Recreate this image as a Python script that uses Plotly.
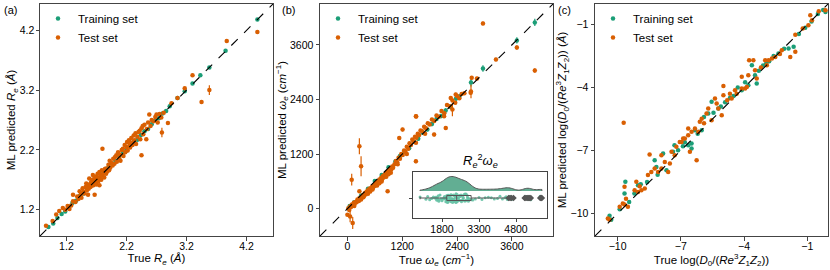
import plotly.graph_objects as go

GREEN = "#1b9e77"
ORANGE = "#d95f02"

# ---------------- Panel (a): R_e (Å) ----------------
a_train_x = [0.90,0.98,1.05,1.12,1.18,1.24,1.30,1.36,1.42,1.48,1.54,1.60,1.66,1.72,1.78,1.84,1.90,1.96,2.02,2.08,2.14,2.20,2.26,2.32,2.38,2.44,2.50,2.56,2.62,2.68,2.74,2.80,2.86,2.92,3.05,3.17,3.30,3.43,3.58,3.85,4.38]
a_train_y = [0.91,0.97,1.06,1.13,1.17,1.25,1.31,1.35,1.43,1.47,1.55,1.61,1.65,1.73,1.79,1.83,1.91,1.97,2.01,2.09,2.15,2.19,2.27,2.33,2.37,2.45,2.51,2.55,2.63,2.69,2.73,2.81,2.85,2.93,3.07,3.18,3.31,3.45,3.58,3.86,4.38]
a_train_err = [0.02]*41

a_test_x = [0.86,0.97,1.03,1.08,1.14,1.18,1.22,1.25,1.28,1.31,1.31,1.35,1.38,1.40,1.42,1.44,1.45,1.47,1.48,1.50,1.52,1.53,1.54,1.55,1.56,1.57,1.58,1.58,1.60,1.61,1.62,1.63,1.64,1.64,1.65,1.66,1.67,1.67,1.68,1.69,1.70,1.70,1.71,1.72,1.73,1.74,1.75,1.75,1.76,1.77,1.78,1.79,1.80,1.80,1.82,1.83,1.84,1.86,1.86,1.88,1.90,1.91,1.92,1.93,1.95,1.97,1.98,2.00,2.01,2.03,2.04,2.06,2.08,2.09,2.10,2.12,2.14,2.15,2.17,2.18,2.20,2.21,2.22,2.24,2.25,2.26,2.28,2.29,2.30,2.32,2.33,2.35,2.36,2.38,2.40,2.42,2.43,2.45,2.45,2.47,2.48,2.50,2.53,2.54,2.56,2.58,2.60,2.62,2.65,2.68,2.70,2.72,2.75,2.78,2.79,2.82,2.89,2.95,3.05,3.17,3.30,3.45,3.58,3.87,4.38]
a_test_y = [0.93,1.01,1.12,1.18,1.23,1.20,1.26,1.21,1.27,1.34,1.45,1.33,1.42,1.38,1.51,1.46,1.40,1.56,1.50,1.47,1.58,1.64,1.52,1.60,1.45,1.55,1.72,1.62,1.58,1.66,1.60,1.70,1.78,1.64,1.61,1.68,1.45,1.74,1.65,1.71,1.62,1.76,1.69,1.80,1.67,1.73,1.83,1.61,1.72,1.78,1.70,1.86,2.22,1.77,1.82,1.74,1.88,1.89,1.80,1.84,1.95,1.86,2.02,1.90,1.98,1.94,2.05,1.97,2.08,2.11,2.00,2.16,2.05,2.12,2.02,2.20,2.22,2.10,2.28,2.16,2.25,2.33,2.19,2.36,2.30,2.24,2.40,2.32,2.28,2.44,2.36,2.48,2.30,2.42,2.50,2.52,2.38,2.11,2.56,2.60,2.46,2.62,2.38,2.55,2.66,2.79,2.60,2.70,2.68,2.75,2.79,2.66,2.80,2.74,2.49,2.82,2.65,2.98,3.07,3.23,3.45,3.00,3.20,4.02,4.17]
a_test_err = [0.02]*len(a_test_x)
a_test_err[a_test_x.index(2.79)] = 0.08
a_test_err[a_test_x.index(3.58)] = 0.08

# ---------------- Panel (b): omega_e (cm^-1) ----------------
b_train_x = [50,150,300,450,600,750,900,1050,1150,1250,1350,1450,1550,1650,1750,1850,1950,2050,2150,2250,2378,2450,2705,2967,3709,4102]
b_train_y = [60,140,290,440,610,740,910,1040,1160,1260,1330,1470,1540,1670,1740,1860,1970,2040,2160,2240,2422,2460,2774,3083,3699,4095]
b_train_err = [20,20,20,20,25,25,25,30,30,30,40,30,40,40,40,50,40,50,50,50,60,60,90,70,70,80]

b_test_x = [20,40,60,80,100,120,140,160,180,200,220,240,260,280,300,320,340,360,380,400,420,440,460,480,500,520,540,560,580,600,620,640,660,680,700,720,740,760,780,800,820,840,860,880,900,920,940,960,980,1000,1030,1060,1090,1120,1150,1180,1210,1240,1270,1300,1330,1360,1390,1420,1450,1480,1510,1540,1570,1600,1640,1680,1720,1760,1800,1850,1900,1950,2000,2060,2120,2180,2240,2300,2360,2400,2450,2500,2560,
            150,250,350,450,550,650,750,850,950,300,500,700,900,1100,1300,1500,1700,
            0,262,880,1135,1207,1499,1499,1505,1898,2153,2116,2262,2371,2298,2698,2720,2705,2836,3251,3709,2967,4102,
            262,299,94,59,116]
b_test_y = [10,-30,50,40,90,70,130,110,150,140,200,180,230,210,260,250,300,280,340,310,380,350,420,390,450,430,490,460,520,500,560,540,600,570,640,610,680,650,720,690,760,740,800,770,840,820,880,860,930,900,980,1050,1020,1120,1100,1200,1180,1280,1250,1360,1320,1440,1400,1520,1480,1580,1560,1650,1620,1720,1700,1800,1770,1880,1850,1960,1930,2050,2020,2150,2100,2280,2250,2380,2330,2480,2430,2520,2540,
            60,170,250,330,420,510,600,700,790,200,380,560,760,980,1200,1450,1650,
            -132,381,381,1556,1739,1041,2033,2026,1629,1776,2033,2436,2510,2180,2547,2877,2576,2862,3281,3545,4073,3039,
            1372,932,639,-169,-315]
b_test_err = [30]*89 + [30]*17 + [30,30,30,40,40,40,40,40,40,40,40,40,40,150,40,40,150,40,40,50,40,50] + [176,220,130,130,130]

# ---------------- Panel (c): log(D0/(Re^3 Z1 Z2)) ----------------
c_train_x = [-10.38,-10.30,-9.90,-9.67,-9.63,-9.45,-9.20,-9.03,-8.90,-8.60,-8.24,-8.16,-8.10,-7.84,-7.68,-7.37,-7.30,-7.13,-6.90,-6.81,-6.65,-6.49,-6.49,-6.33,-6.20,-6.01,-5.90,-5.70,-5.54,-5.45,-5.22,-5.10,-4.90,-4.67,-4.50,-4.30,-4.11,-3.95,-3.80,-3.63,-3.48,-3.40,-3.30,-3.10,-2.95,-2.81,-2.60,-2.37,-2.10,-1.89,-1.65,-1.40,-1.10,-0.80,-0.50,-0.25,-0.14]
c_train_y = [-10.10,-10.30,-9.80,-9.05,-8.49,-9.45,-9.05,-8.65,-8.60,-8.50,-7.46,-7.78,-8.15,-7.14,-7.94,-7.06,-6.75,-6.98,-6.80,-6.60,-6.75,-6.67,-6.90,-6.03,-6.20,-6.03,-5.40,-5.24,-4.68,-5.20,-5.00,-4.90,-4.70,-4.50,-4.40,-4.00,-4.13,-3.75,-3.89,-2.94,-3.41,-3.81,-3.20,-2.95,-2.85,-2.75,-2.50,-2.38,-2.15,-2.14,-2.06,-1.45,-1.15,-0.85,-0.50,-0.30,-0.40]
c_train_err = [0.03]*len(c_train_x)

c_test_x = [-10.46,-10.38,-9.90,-9.75,-9.67,-9.67,-9.71,-9.51,-9.60,-9.19,-9.03,-8.87,-9.11,-8.95,-8.71,-8.56,-8.48,-8.40,-8.24,-8.08,-7.92,-7.92,-7.76,-7.60,-7.52,-7.44,-7.29,-7.21,-7.05,-6.97,-6.89,-6.81,-6.65,-6.65,-6.57,-6.49,-6.33,-6.25,-6.17,-6.10,-6.01,-5.90,-5.78,-5.70,-5.54,-5.38,-5.30,-5.22,-5.06,-4.98,-4.98,-4.80,-4.67,-4.59,-4.43,-4.35,-4.11,-4.11,-3.95,-3.87,-3.80,-3.76,-3.56,-3.48,-3.40,-3.20,-3.00,-2.92,-2.84,-2.68,-2.52,-2.30,-2.21,-1.81,-1.57,-1.57,-1.22,-0.95,-0.78,-0.86,-0.46,-0.14]
c_test_y = [-10.24,-10.30,-9.68,-9.52,-8.73,-9.57,-5.68,-9.68,-9.30,-8.89,-8.97,-8.89,-8.49,-8.70,-8.81,-8.17,-7.19,-8.02,-7.86,-8.02,-7.22,-7.86,-7.54,-8.02,-7.62,-7.06,-7.22,-6.82,-6.59,-6.59,-6.43,-6.43,-6.27,-5.95,-7.06,-6.11,-5.95,-7.46,-6.11,-5.63,-5.48,-5.70,-5.24,-5.00,-5.56,-4.52,-4.76,-5.00,-5.32,-3.92,-4.37,-4.60,-4.29,-4.52,-4.13,-4.30,-3.49,-4.05,-4.05,-3.97,-3.41,-2.70,-2.70,-3.18,-3.57,-3.05,-2.70,-2.94,-2.70,-2.62,-2.54,-2.40,-2.22,-2.54,-2.30,-1.48,-1.19,-1.03,-0.79,-0.56,-0.37,-0.32]
c_test_err = [0.03]*len(c_test_x)

# ---------------- Inset: R_e^2 * omega_e distribution ----------------
inset_values = [910,1150,1220,1300,1380,1450,1500,1540,1570,1590,1610,1630,1650,1670,1690,1720,1760,1800,1840,1870,1900,1920,1940,1955,1965,1975,1985,1990,
                2005,2020,2035,2050,2065,2080,2095,2110,2125,2140,2155,2170,2185,2200,2215,2230,2245,2260,2275,2290,2305,2320,2335,2350,2360,2370,2380,2395,
                2410,2430,2450,2470,2490,2510,2530,2550,2570,2590,2610,2630,2650,2670,2690,2710,2730,2750,2770,2790,2810,2830,2850,2870,2885,2900,2950,2990,
                3050,3150,3300,3420,3550,3680,3800,3920,4050,4150,4250,4350,4400,4450,4500,4560,4620,4700,5150,5200,5250,5300,5350,5400,5780,5820,5850]
inset_ticks = [1800, 3300, 4800]

a_ticks = [1.2, 2.2, 3.2, 4.2]
b_ticks = [0, 1200, 2400, 3600]
c_ticks = [-10, -7, -4, -1]
c_ticktext = ["\u221210", "\u22127", "\u22124", "\u22121"]

a_range = [0.76, 4.64]
b_range = [-600, 4500]
c_range = [-11.07, -0.02]

FONT = "Liberation Sans, Arial, sans-serif"
fig = go.Figure()

def add_panel(xs_tr, ys_tr, err_tr, xs_te, ys_te, err_te, xa, ya, leg):
    fig.add_trace(go.Scatter(x=xs_tr, y=ys_tr, mode="markers", name="Training set",
                             marker=dict(color=GREEN, size=4.5),
                             error_y=dict(type="data", array=err_tr, color=GREEN, thickness=1.2, width=0),
                             xaxis=xa, yaxis=ya, legend=leg))
    fig.add_trace(go.Scatter(x=xs_te, y=ys_te, mode="markers", name="Test set",
                             marker=dict(color=ORANGE, size=4.5),
                             error_y=dict(type="data", array=err_te, color=ORANGE, thickness=1.2, width=0),
                             xaxis=xa, yaxis=ya, legend=leg))

add_panel(a_train_x, a_train_y, a_train_err, a_test_x, a_test_y, a_test_err, "x", "y", "legend")
add_panel(b_train_x, b_train_y, b_train_err, b_test_x, b_test_y, b_test_err, "x2", "y2", "legend2")
add_panel(c_train_x, c_train_y, c_train_err, c_test_x, c_test_y, c_test_err, "x3", "y3", "legend3")

# inset traces
fig.add_trace(go.Violin(x=inset_values, y0=27, orientation="h", side="positive", width=29,
                        bandwidth=170, spanmode="hard", points=False, box_visible=False,
                        meanline_visible=False, fillcolor="rgba(70,160,128,0.85)",
                        line=dict(color="#555555", width=1), showlegend=False,
                        xaxis="x4", yaxis="y4", hoverinfo="skip"))
fig.add_trace(go.Box(x=inset_values, y0=20, orientation="h", boxpoints="all", jitter=1, pointpos=0,
                     width=10, fillcolor="rgba(0,0,0,0)", line=dict(color="rgba(0,0,0,0)", width=0),
                     marker=dict(color="#66c2a5", size=3, opacity=0.9), showlegend=False,
                     xaxis="x4", yaxis="y4"))
fig.add_trace(go.Box(x=inset_values, y0=20, orientation="h", boxpoints="outliers", width=5,
                     fillcolor="rgba(0,0,0,0)", line=dict(color="#555555", width=1),
                     marker=dict(color="#555555", size=5, symbol="diamond"), showlegend=False,
                     xaxis="x4", yaxis="y4"))

# diagonals
for xr, yr, rng in [("x", "y", a_range), ("x2", "y2", b_range), ("x3", "y3", c_range)]:
    fig.add_shape(type="line", xref=xr, yref=yr, x0=rng[0], y0=rng[0], x1=rng[1], y1=rng[1],
                  line=dict(color="black", width=1.1, dash="dash"))

W, H = 830, 270
def dx(p0, p1):
    return [p0 / W, p1 / W]
def dy(top, bottom):
    return [(H - bottom) / H, (H - top) / H]

axis_common = dict(showline=True, mirror=True, linecolor="#444444", linewidth=1, ticks="outside",
                   ticklen=3.5, tickcolor="#444444", showgrid=False, zeroline=False,
                   tickfont=dict(size=10.5, color="black"), title_font=dict(size=11.5, color="black"))
xstyle = dict(axis_common, ticklabelstandoff=-3)

fig.update_layout(
    width=W, height=H, margin=dict(l=0, r=0, t=0, b=0),
    paper_bgcolor="white", plot_bgcolor="white",
    font=dict(family=FONT, color="black"),
    xaxis=dict(domain=dx(40, 273), range=a_range, tickvals=a_ticks, anchor="y",
               title=dict(text="True <i>R</i><sub><i>e</i></sub> (<i>Å</i>)", standoff=0), **xstyle),
    yaxis=dict(domain=dy(4, 236), range=a_range, tickvals=a_ticks, anchor="x", ticklabelstandoff=-1,
               title=dict(text="ML predicted <i>R</i><sub><i>e</i></sub> (<i>Å</i>)", standoff=1), **axis_common),
    xaxis2=dict(domain=dx(320, 553), range=b_range, tickvals=b_ticks, anchor="y2",
                title=dict(text="True <i>ω</i><sub><i>e</i></sub> (<i>cm</i><sup>\u22121</sup>)", standoff=0), **xstyle),
    yaxis2=dict(domain=dy(4, 236), range=b_range, tickvals=b_ticks, anchor="x2",
                title=dict(text="ML predicted <i>ω</i><sub><i>e</i></sub> (<i>cm</i><sup>\u22121</sup>)", standoff=0), **axis_common),
    xaxis3=dict(domain=dx(595, 828), range=c_range, tickvals=c_ticks, ticktext=c_ticktext, anchor="y3",
                title=dict(text="True log(<i>D</i><sub>0</sub>/(<i>Re</i><sup>3</sup><i>Z</i><sub>1</sub><i>Z</i><sub>2</sub>))", standoff=0), **xstyle),
    yaxis3=dict(domain=dy(4, 236), range=c_range, tickvals=c_ticks, ticktext=c_ticktext, anchor="x3",
                title=dict(text="ML predicted log(<i>D</i><sub>0</sub>/(<i>Re</i><sup>3</sup><i>Z</i><sub>1</sub><i>Z</i><sub>2</sub>)) (<i>Å</i>)", standoff=0), **axis_common),
    xaxis4=dict(domain=dx(413, 547), range=[624, 6057], tickvals=inset_ticks, anchor="y4",
                showline=True, mirror=True, linecolor="#444444", linewidth=1, ticks="outside", ticklen=3,
                tickcolor="#444444", showgrid=False, zeroline=False, ticklabelstandoff=-2,
                tickfont=dict(size=10.5, color="black")),
    yaxis4=dict(domain=dy(172, 218), range=[0, 46], tickvals=[20], ticktext=[""], anchor="x4",
                showline=True, mirror=True, linecolor="#444444", linewidth=1, ticks="outside", ticklen=3,
                tickcolor="#444444", showgrid=False, zeroline=False),
    showlegend=True,
)

leg_common = dict(bgcolor="rgba(0,0,0,0)", font=dict(size=11.5, color="black"), yanchor="top",
                  xanchor="left", tracegroupgap=0)
fig.update_layout(
    legend=dict(x=38 / W, y=(H - 4) / H, **leg_common),
    legend2=dict(x=318 / W, y=(H - 4) / H, **leg_common),
    legend3=dict(x=593 / W, y=(H - 4) / H, **leg_common),
)

for txt, px in [("(a)", 2), ("(b)", 280), ("(c)", 556)]:
    fig.add_annotation(text=txt, xref="paper", yref="paper", x=px / W, y=(H - 2) / H,
                       xanchor="left", yanchor="top", showarrow=False, font=dict(size=11))

fig.add_annotation(text="<i>R</i><sub><i>e</i></sub><sup>2</sup><i>ω</i><sub><i>e</i></sub>",
                   xref="paper", yref="paper", x=480 / W, y=(H - 172) / H, xanchor="center",
                   yanchor="bottom", showarrow=False, font=dict(size=13))

fig.write_html("out.html", config={"displayModeBar": False},
               post_script="document.body.style.margin='0';document.body.style.overflow='hidden';")
